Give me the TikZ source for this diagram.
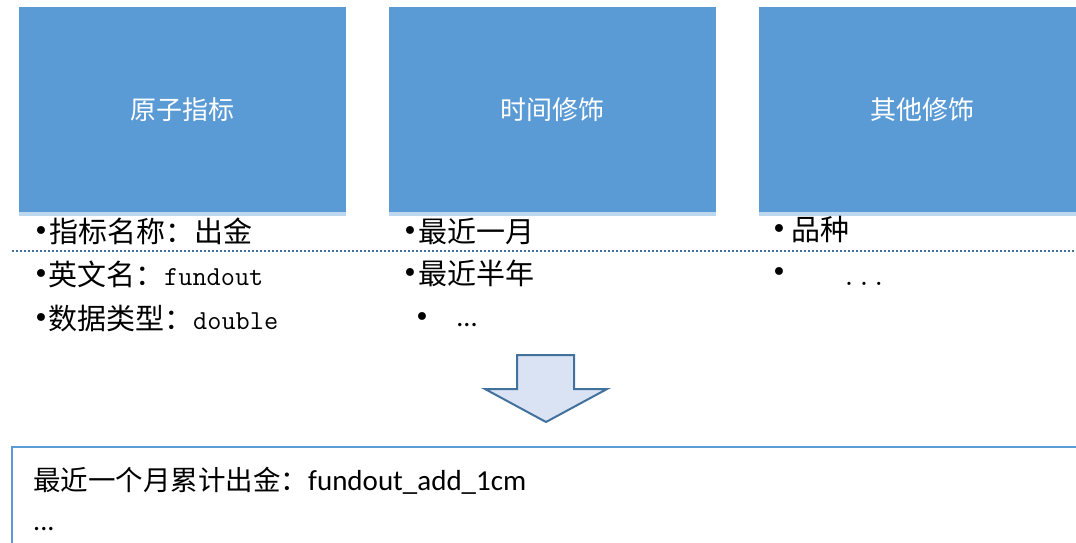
\documentclass[tikz,border=0pt]{standalone}
\usepackage{fontspec}
\setmainfont{Carlito}
\newfontfamily\cjk{Noto Sans CJK SC}
\newfontfamily\bulletfont{DejaVu Sans}
\definecolor{boxblue}{HTML}{5B9BD5}
\definecolor{stripblue}{HTML}{BDD7EE}
\definecolor{edgeblue}{HTML}{41719C}
\definecolor{arrowfill}{HTML}{DAE3F3}
\newcommand{\latcode}[1]{{\ttfamily\fontsize{27.5}{30}\selectfont #1}}
\tikzset{
  topbox/.style={fill=boxblue, draw=none, minimum width=327pt, minimum height=205pt,
                 inner sep=0pt, text=white, font=\cjk\fontsize{26}{30}\selectfont},
  item/.style={anchor=west, inner sep=0pt, font=\cjk\fontsize{29}{32}\selectfont},
  dot/.style={anchor=center, inner sep=0pt, font=\bulletfont\fontsize{27}{30}\selectfont},
  sepline/.style={draw=edgeblue, line width=2pt, dash pattern=on 2pt off 2pt},
  blockarrow/.style={draw=edgeblue, line width=2pt, fill=arrowfill, line join=miter},
  panel/.style={draw=boxblue, line width=1.5pt},
  result/.style={anchor=west, inner sep=0pt, font=\fontsize{29}{32}\selectfont}
}
\begin{document}
\begin{tikzpicture}[x=1pt, y=-1pt]
\useasboundingbox (0,0) rectangle (1076,542);
\clip (0,0) rectangle (1076,542);

% three category boxes with a light strip under each
\node[topbox] (b1) at (182.5,109.5) {原子指标};
\node[topbox] (b2) at (552.5,109.5) {时间修饰};
\node[topbox] (b3) at (922.5,109.5) {其他修饰};
\foreach \b in {b1,b2,b3}
  \fill[stripblue] (\b.south west) rectangle ([yshift=-3.5pt]\b.south east);

% dotted separator
\coordinate (sepL) at (12,251);
\coordinate (sepR) at (1076,251);
\draw[sepline] (sepL) -- (sepR);

% column 1
\node[dot] (d11) at (41,234) {•};
\node[item] (t11) at (49,231) {指标名称：出金};
\node[dot] (d12) at (41,277) {•};
\node[item] (t12) at (48,274) {英文名：\latcode{fundout}};
\node[dot] (d13) at (41,321) {•};
\node[item] (t13) at (48,318) {数据类型：\latcode{double}};

% column 2
\node[dot] (d21) at (410,234) {•};
\node[item] (t21) at (418,231) {最近一月};
\node[dot] (d22) at (410,276) {•};
\node[item] (t22) at (418,273) {最近半年};
\node[dot] (d23) at (422,320) {•};
\node[anchor=base, inner sep=0pt, font=\fontsize{28}{32}\selectfont] (t23) at (467,326) {...};

% column 3
\node[dot] (d31) at (779,232) {•};
\node[item] (t31) at (791,230) {品种};
\node[dot] (d32) at (779,275) {•};
\node[anchor=base, inner sep=0pt, font=\ttfamily\fontsize{29}{30}\selectfont] (t32) at (864,285) {...};

% block arrow pointing down
\draw[blockarrow] (517,355) -- (574,355) -- (574,389) -- (607,389)
  -- (546,422) -- (485,389) -- (517,389) -- cycle;

% result panel
\draw[panel] (12,447) rectangle (1090,560);
\node[result] (r1) at (33,481) {{\cjk\fontsize{27.5}{32}\selectfont 最近一个月累计出金：}fundout\_add\_1cm};
\node[anchor=base west, inner sep=0pt, font=\fontsize{28}{32}\selectfont] (r2) at (33,530) {...};
\end{tikzpicture}
\end{document}
